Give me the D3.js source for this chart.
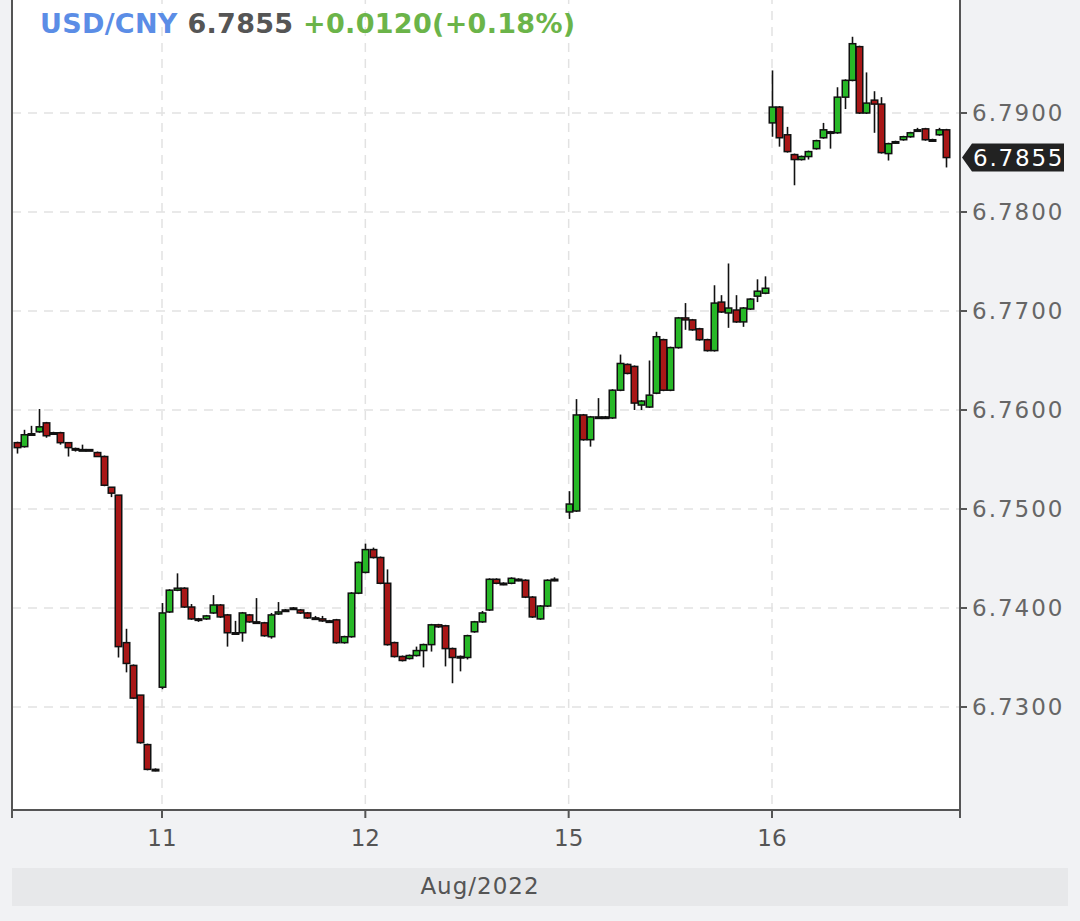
<!DOCTYPE html>
<html><head><meta charset="utf-8">
<script src="https://cdn.jsdelivr.net/npm/d3@7/dist/d3.min.js"></script>
<style>
html,body{margin:0;padding:0;background:#f1f2f4;}
svg{display:block;font-family:"DejaVu Sans",sans-serif;}
</style></head>
<body><svg id="c" width="1080" height="921"></svg>
<script>
// ---- data ----
const dayTicks = ["11","12","15","16"];
const dayOffsets = [-1,0,1,2,3];           // aug10, aug11, aug12, aug15, aug16
const slotsPerDay = 28;
const yTicks = [6.73,6.74,6.75,6.76,6.77,6.78,6.79];
const axisLabel = "Aug/2022";
const symbol = "USD/CNY", lastPrice = 6.7855, change = "+0.0120", changePct = "(+0.18%)";
// [open, high, low, close]
const aug10 = [
 [6.7567,6.7568,6.7556,6.7562],[6.7563,6.7580,6.7562,6.7575],[6.7575,6.7584,6.7574,6.7576],
 [6.7578,6.7601,6.7577,6.7583],[6.7587,6.7588,6.7572,6.7574],[6.7577,6.7578,6.7575,6.7576],
 [6.7577,6.7578,6.7565,6.7567],[6.7567,6.7567,6.7553,6.7562],[6.7561,6.7562,6.7558,6.7560],
 [6.7560,6.7565,6.7559,6.7560],[6.7560,6.7560,6.7559,6.7559],[6.7557,6.7558,6.7553,6.7553],
 [6.7553,6.7554,6.7523,6.7524],[6.7522,6.7522,6.7512,6.7516],[6.7514,6.7514,6.7350,6.7361],
 [6.7365,6.7379,6.7335,6.7344],[6.7342,6.7343,6.7308,6.7309],[6.7312,6.7312,6.7263,6.7264],
 [6.7262,6.7263,6.7236,6.7237],[6.7237,6.7238,6.7235,6.7236]];
const aug11 = [
 [6.7320,6.7405,6.7318,6.7395],[6.7396,6.7419,6.7395,6.7418],[6.7418,6.7435,6.7417,6.7420],
 [6.7420,6.7421,6.7400,6.7401],[6.7401,6.7404,6.7388,6.7389],[6.7389,6.7390,6.7386,6.7388],
 [6.7389,6.7393,6.7388,6.7392],[6.7395,6.7413,6.7394,6.7403],[6.7403,6.7404,6.7390,6.7391],
 [6.7393,6.7394,6.7361,6.7375],[6.7374,6.7387,6.7373,6.7375],[6.7375,6.7396,6.7366,6.7395],
 [6.7393,6.7394,6.7385,6.7386],[6.7386,6.7410,6.7384,6.7385],[6.7385,6.7386,6.7371,6.7372],
 [6.7371,6.7395,6.7369,6.7393],[6.7394,6.7406,6.7393,6.7396],[6.7397,6.7399,6.7396,6.7398],
 [6.7400,6.7401,6.7399,6.7400],[6.7398,6.7399,6.7394,6.7395],[6.7395,6.7396,6.7389,6.7390],
 [6.7390,6.7392,6.7388,6.7389],[6.7389,6.7392,6.7386,6.7387],[6.7387,6.7388,6.7385,6.7386],
 [6.7388,6.7389,6.7364,6.7365],[6.7365,6.7372,6.7364,6.7371],[6.7371,6.7416,6.7370,6.7415],
 [6.7415,6.7447,6.7414,6.7446]];
const aug12 = [
 [6.7436,6.7465,6.7435,6.7459],[6.7459,6.7461,6.7450,6.7451],[6.7451,6.7452,6.7424,6.7425],
 [6.7425,6.7439,6.7362,6.7363],[6.7365,6.7366,6.7350,6.7351],[6.7351,6.7352,6.7346,6.7347],
 [6.7349,6.7353,6.7348,6.7352],[6.7352,6.7361,6.7351,6.7357],[6.7357,6.7364,6.7340,6.7363],
 [6.7363,6.7384,6.7356,6.7383],[6.7383,6.7384,6.7380,6.7381],[6.7382,6.7383,6.7341,6.7359],
 [6.7359,6.7360,6.7324,6.7350],[6.7351,6.7352,6.7336,6.7350],[6.7350,6.7373,6.7348,6.7372],
 [6.7376,6.7387,6.7375,6.7386],[6.7386,6.7397,6.7385,6.7395],[6.7398,6.7430,6.7397,6.7429],
 [6.7429,6.7430,6.7424,6.7425],[6.7425,6.7426,6.7423,6.7424],[6.7425,6.7431,6.7424,6.7430],
 [6.7429,6.7430,6.7427,6.7428],[6.7428,6.7429,6.7410,6.7411],[6.7411,6.7412,6.7390,6.7391],
 [6.7389,6.7403,6.7388,6.7402],[6.7402,6.7429,6.7401,6.7428],[6.7428,6.7431,6.7427,6.7429]];
const aug15 = [
 [6.7497,6.7518,6.7490,6.7505],[6.7498,6.7611,6.7497,6.7595],[6.7595,6.7596,6.7569,6.7570],
 [6.7570,6.7594,6.7563,6.7593],[6.7592,6.7612,6.7591,6.7593],[6.7593,6.7594,6.7592,6.7593],
 [6.7592,6.7621,6.7591,6.7620],[6.7620,6.7656,6.7619,6.7647],[6.7646,6.7647,6.7636,6.7637],
 [6.7644,6.7645,6.7600,6.7607],[6.7605,6.7610,6.7600,6.7609],[6.7603,6.7650,6.7602,6.7615],
 [6.7617,6.7679,6.7616,6.7674],[6.7671,6.7672,6.7619,6.7620],[6.7620,6.7664,6.7619,6.7663],
 [6.7663,6.7694,6.7662,6.7693],[6.7693,6.7708,6.7681,6.7691],[6.7691,6.7692,6.7680,6.7681],
 [6.7682,6.7683,6.7670,6.7671],[6.7671,6.7672,6.7659,6.7660],[6.7660,6.7726,6.7659,6.7708],
 [6.7709,6.7716,6.7698,6.7699],[6.7698,6.7748,6.7683,6.7703],[6.7701,6.7716,6.7688,6.7689],
 [6.7689,6.7704,6.7684,6.7703],[6.7702,6.7713,6.7701,6.7712],[6.7715,6.7732,6.7709,6.7720],
 [6.7718,6.7735,6.7717,6.7723]];
const aug16 = [
 [6.7890,6.7943,6.7876,6.7906],[6.7906,6.7907,6.7866,6.7875],[6.7878,6.7886,6.7860,6.7861],
 [6.7858,6.7859,6.7827,6.7853],[6.7853,6.7857,6.7852,6.7856],[6.7856,6.7862,6.7853,6.7861],
 [6.7864,6.7873,6.7863,6.7872],[6.7875,6.7890,6.7874,6.7883],[6.7881,6.7882,6.7864,6.7880],
 [6.7880,6.7926,6.7879,6.7916],[6.7916,6.7934,6.7904,6.7933],[6.7933,6.7977,6.7932,6.7970],
 [6.7967,6.7968,6.7899,6.7900],[6.7900,6.7941,6.7899,6.7910],[6.7913,6.7922,6.7880,6.7909],
 [6.7909,6.7916,6.7859,6.7860],[6.7859,6.7870,6.7852,6.7869],[6.7870,6.7872,6.7869,6.7871],
 [6.7873,6.7877,6.7872,6.7876],[6.7876,6.7881,6.7875,6.7880],[6.7882,6.7885,6.7881,6.7883],
 [6.7884,6.7885,6.7872,6.7873],[6.7873,6.7874,6.7871,6.7872],[6.7878,6.7885,6.7877,6.7883],
 [6.7883,6.7884,6.7845,6.7855]];

// ---- build ----
const days = [aug10, aug11, aug12, aug15, aug16];
const candles = [];
days.forEach((arr, di) => {
  const n = arr.length;
  arr.forEach((c, i) => {
    const slot = di === 0 ? i - n : i;     // aug10 ends just before Aug 11
    candles.push({idx: (di === 0 ? 0 : dayOffsets[di]) * slotsPerDay + slot, o:c[0], h:c[1], l:c[2], c:c[3]});
  });
});

const L = 12, R = 960, T = -5, B = 810;
const x = d3.scaleLinear().domain([0, 84]).range([162, 772]);
const y = d3.scaleLinear().domain([6.73, 6.79]).range([707, 113]);
const svg = d3.select("#c");
const FONT = 23;

// plot bg
svg.append("rect").attr("x", L).attr("y", T).attr("width", R - L).attr("height", B - T).attr("fill", "#fff");

// grid
const tickIdx = dayTicks.map((d, i) => i * slotsPerDay);
svg.append("g").selectAll("line").data(yTicks).join("line")
  .attr("x1", L).attr("x2", R).attr("y1", d => y(d)).attr("y2", d => y(d))
  .attr("stroke", "#e2e2e2").attr("stroke-width", 1.5).attr("stroke-dasharray", "9,7");
svg.append("g").selectAll("line").data(tickIdx).join("line")
  .attr("x1", d => x(d)).attr("x2", d => x(d)).attr("y1", T).attr("y2", B)
  .attr("stroke", "#e2e2e2").attr("stroke-width", 1.5).attr("stroke-dasharray", "9,7");

// title
const title = svg.append("text").attr("x", 40).attr("y", 33)
  .attr("font-size", 27).attr("font-weight", "bold").attr("letter-spacing", 0.3);
title.append("tspan").attr("fill", "#5b8de6").text(symbol + " ");
title.append("tspan").attr("fill", "#555").text(lastPrice.toFixed(4) + " ");
title.append("tspan").attr("fill", "#6bb449").text(change + changePct);

// candles
const bw = 6.5;
const g = svg.append("g");
candles.forEach(d => {
  const cx = Math.round(x(d.idx)) + 0.5;
  g.append("line").attr("x1", cx).attr("x2", cx).attr("y1", y(d.h)).attr("y2", y(d.l))
    .attr("stroke", "#111").attr("stroke-width", 1.6);
  const top = y(Math.max(d.o, d.c)), bot = y(Math.min(d.o, d.c));
  const h = Math.max(bot - top, 1.5);
  g.append("rect").attr("x", cx - bw / 2).attr("y", top).attr("width", bw).attr("height", h)
    .attr("fill", d.c >= d.o ? "#27b827" : "#a81717")
    .attr("stroke", "#111").attr("stroke-width", 1.5);
});

// borders
svg.append("line").attr("x1", L).attr("x2", L).attr("y1", T).attr("y2", B + 8).attr("stroke", "#555").attr("stroke-width", 2);
svg.append("line").attr("x1", R).attr("x2", R).attr("y1", T).attr("y2", B + 8).attr("stroke", "#555").attr("stroke-width", 2);
svg.append("line").attr("x1", L).attr("x2", R).attr("y1", B).attr("y2", B).attr("stroke", "#555").attr("stroke-width", 2);

// x axis
svg.append("g").selectAll("line").data(tickIdx).join("line")
  .attr("x1", d => x(d)).attr("x2", d => x(d)).attr("y1", B).attr("y2", B + 8)
  .attr("stroke", "#555").attr("stroke-width", 2);
svg.append("g").selectAll("text").data(dayTicks).join("text")
  .attr("x", (d, i) => x(tickIdx[i])).attr("y", 846).attr("text-anchor", "middle")
  .attr("font-size", FONT).attr("fill", "#555").text(d => d);

// y axis right
svg.append("g").selectAll("line").data(yTicks).join("line")
  .attr("x1", R).attr("x2", R + 7).attr("y1", d => y(d)).attr("y2", d => y(d))
  .attr("stroke", "#555").attr("stroke-width", 2);
svg.append("g").selectAll("text").data(yTicks).join("text")
  .attr("x", 972).attr("y", d => y(d)).attr("dy", "0.36em")
  .attr("font-size", FONT).attr("letter-spacing", 2).attr("fill", "#666")
  .text(d => d.toFixed(4));

// last price marker
const py = y(lastPrice);
svg.append("path").attr("d", `M${R + 2},${py} L${R + 12},${py - 14} L1064,${py - 14} L1064,${py + 14} L${R + 12},${py + 14} Z`)
  .attr("fill", "#222");
svg.append("text").attr("x", 973).attr("y", py).attr("dy", "0.36em")
  .attr("font-size", FONT).attr("letter-spacing", 1.8).attr("fill", "#fff").text(lastPrice.toFixed(4));

// bottom band
svg.append("rect").attr("x", 12).attr("y", 868).attr("width", 1056).attr("height", 38).attr("fill", "#e7e8ea");
svg.append("text").attr("x", 480).attr("y", 894).attr("text-anchor", "middle")
  .attr("font-size", FONT).attr("letter-spacing", 1).attr("fill", "#555").text(axisLabel);
</script></body></html>
